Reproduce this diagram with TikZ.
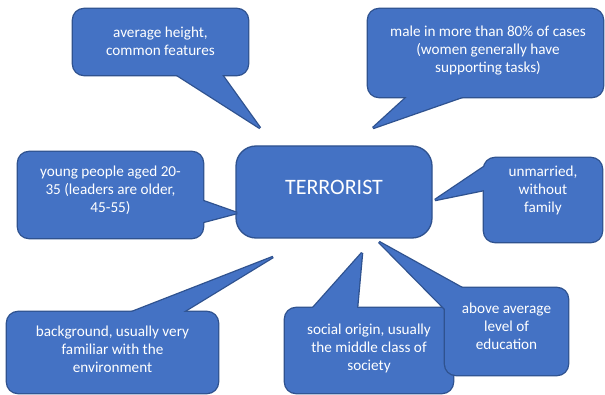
\documentclass[tikz,border=0pt]{standalone}
\usepackage{fontspec}
\setmainfont{Carlito}
\usetikzlibrary{calc}
\definecolor{boxfill}{HTML}{4472C4}
\definecolor{boxline}{HTML}{2F528F}
\newlength\lw \setlength\lw{1.3pt}
\tikzset{
  callbox/.style={rectangle, rounded corners=11pt, inner sep=0pt},
  calltext/.style={text=white, align=center, font=\fontsize{15.2}{18}\selectfont, inner sep=0pt},
}
% #1 name, #2 box centre, #3 width, #4 height, #5 tip, #6/#7 base points on box edge, #8 text position, #9 text
\newcommand\callout[9]{%
  \node[callbox, minimum width=#3, minimum height=#4, draw=boxline, line width=2\lw] (#1o) at (#2) {};
  \coordinate (#1t) at (#5);
  \coordinate (#1a) at ($(#5)!1.25!(#6)$);
  \coordinate (#1b) at ($(#5)!1.25!(#7)$);
  \draw[boxline, line width=2\lw, miter limit=2] (#1t) -- (#1a) -- (#1b) -- cycle;
  \fill[boxfill] (#1t) -- (#1a) -- (#1b) -- cycle;
  \node[callbox, minimum width=#3, minimum height=#4, fill=boxfill] (#1f) at (#2) {};
  \node[calltext] (#1) at (#8) {#9};
}
\begin{document}
\begin{tikzpicture}[x=1pt, y=-1pt]
\useasboundingbox[fill=white] (0,0) rectangle (605,395);
% centre
\node[callbox, rounded corners=20pt, minimum width=196pt, minimum height=92pt,
      fill=boxfill, draw=boxline, line width=\lw] (c) at (334,192) {};
\node[text=white, inner sep=0pt, font=\fontsize{22}{26}\selectfont] (ct) at (334,187) {TERRORIST};
% callouts
\callout{avg}{160.5,42}{175pt}{66pt}{260,128}{177,75}{222,75}{160.5,41.5}{average height,\\common features}
\callout{male}{485.5,53}{235pt}{88pt}{373,128}{407,97}{462,97}{488,51}{male in more than 80\% of cases\\(women generally have\\supporting tasks)}
\callout{young}{110.5,195}{185pt}{86pt}{237,213}{203,201}{203,222}{110.5,190.5}{young people aged 20-\\35 (leaders are older,\\45-55)}
\callout{unm}{543,200}{118pt}{84pt}{435,200}{484,167}{484,190}{543,190.5}{unmarried,\\without\\family}
\callout{back}{112.5,352.5}{211pt}{81pt}{273,257}{132,312}{183,312}{112.5,349.5}{background, usually very\\familiar with the\\environment}
\callout{soc}{369,350.5}{168pt}{85pt}{362,253}{313,308}{357,308}{369,348.5}{social origin, usually\\the middle class of\\society}
\callout{edu}{506.5,331.5}{123pt}{87pt}{379,242}{446,310}{462,288}{506.5,326.5}{above average\\level of\\education}
\end{tikzpicture}
\end{document}
